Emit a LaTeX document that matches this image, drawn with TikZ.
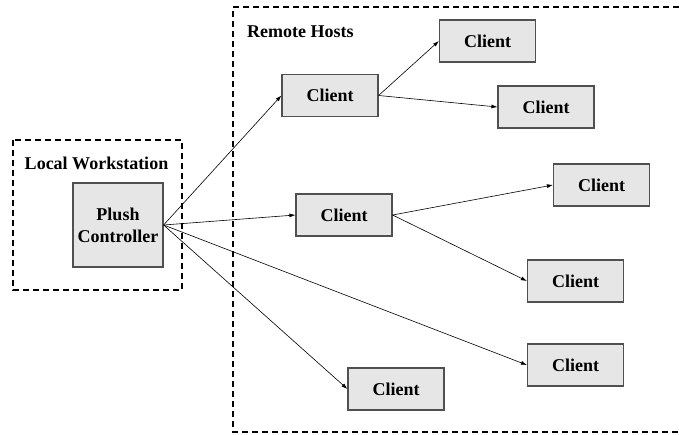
\documentclass[tikz,border=0pt]{standalone}
\usepackage{fontspec}
\setmainfont{Liberation Serif}
\usetikzlibrary{arrows.meta, positioning}
\definecolor{boxgray}{RGB}{230,230,230}
\definecolor{edgegray}{RGB}{80,80,80}

\begin{document}
\begin{tikzpicture}[x=1pt, y=-1pt, font=\fontsize{18}{22}\selectfont\bfseries]
		% Styles for hosts and links
		\tikzset{host/.style={draw=edgegray, fill=boxgray, line width=1.2pt, minimum width=96pt, minimum height=42pt, inner sep=0pt}}
		\tikzset{ctrl/.style={host, minimum width=90pt, minimum height=84pt, align=center}}
		\tikzset{group/.style={draw=black, line width=1.4pt, dash pattern=on 6pt off 4pt}}
		\tikzset{link/.style={-{Latex[length=6pt,width=4pt]}, line width=0.6pt}}
		
		\useasboundingbox (0,0) rectangle (679,434);
		
		% Groups
		\draw[group] (13,140) rectangle (182,290);
		\draw[group] (679,7) -- (233,7) -- (233,432) -- (679,432);
		\node (local) at (96.5,163) {Local Workstation};
		\node[anchor=west, inner sep=0pt] (remote) at (247,32) {Remote Hosts};
		
		% Controller
		\node[ctrl] (plush) at (118,225) {Plush\\Controller};
		
		% Clients
		\node[host] (c1) at (330,95.5) {Client};
		\node[host] (c2) at (487.5,41) {Client};
		\node[host] (c3) at (546,107) {Client};
		\node[host] (c4) at (344,215) {Client};
		\node[host] (c5) at (601.5,185) {Client};
		\node[host] (c6) at (575.5,281) {Client};
		\node[host] (c7) at (575.5,365) {Client};
		\node[host] (c8) at (396,389) {Client};
		
		% Links
		\draw[link] (plush.east) -- (c1.west);
		\draw[link] (plush.east) -- (c4.west);
		\draw[link] (plush.east) -- (c7.west);
		\draw[link] (plush.east) -- (c8.west);
		\draw[link] (c1.east) -- (c2.west);
		\draw[link] (c1.east) -- (c3.west);
		\draw[link] (c4.east) -- (c5.west);
		\draw[link] (c4.east) -- (c6.west);
	\end{tikzpicture}
\end{document}
